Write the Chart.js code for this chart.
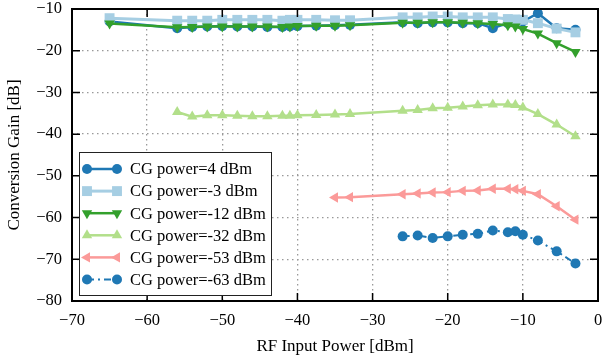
<!DOCTYPE html>
<html>
<head>
<meta charset="utf-8">
<script src="https://cdn.jsdelivr.net/npm/chart.js@4/dist/chart.umd.min.js"></script>
<style>
  html, body { margin: 0; padding: 0; background: #fff; }
  #wrap { width: 605px; height: 360px; }
</style>
</head>
<body>
<div id="wrap"><canvas id="cg"></canvas></div>
<script>
// RF input power points (dBm)
var xFull = [-65, -56, -54, -52, -50, -48, -46, -44, -42, -41, -40, -37.5, -35, -33,
             -26, -24, -22, -20, -18, -16, -14, -12, -11, -10, -8, -5.5, -3];
var x32 = xFull.slice(1);
var x53 = [-35, -33, -26, -24, -22, -20, -18, -16, -14, -12, -11, -10, -8, -5.5, -3];
var x63 = [-26, -24, -22, -20, -18, -16, -14, -12, -11, -10, -8, -5.5, -3];

// conversion gain (dB)
var cg4   = [-13.0, -14.6, -14.3, -14.2, -14.1, -14.2, -14.2, -14.3, -14.3, -14.2, -14.1, -14.0, -13.9, -13.8,
             -13.2, -13.4, -13.2, -13.2, -13.4, -13.4, -14.6, -13.4, -13.3, -13.0, -11.0, -14.6, -15.0];
var cgM3  = [-12.2, -12.8, -12.8, -12.8, -12.6, -12.6, -12.6, -12.6, -12.8, -12.6, -12.6, -12.6, -12.7, -12.7,
             -12.0, -12.0, -11.8, -11.8, -12.0, -12.0, -12.0, -12.4, -12.5, -12.6, -13.4, -14.7, -15.6];
var cgM12 = [-13.5, -14.4, -14.3, -14.2, -14.2, -14.2, -14.2, -14.2, -14.3, -14.2, -14.1, -14.0, -14.0, -13.9,
             -13.3, -13.3, -13.2, -13.2, -13.3, -13.4, -13.6, -13.9, -14.2, -14.8, -15.9, -18.2, -20.3];
var cgM32 = [-34.7, -35.8, -35.5, -35.5, -35.6, -35.7, -35.7, -35.6, -35.6, -35.5, -35.4, -35.3, -35.2,
             -34.4, -34.2, -33.8, -33.7, -33.4, -33.1, -32.9, -32.9, -33.0, -33.6, -35.2, -37.7, -40.5];
var cgM53 = [-55.2, -55.1, -54.4, -54.2, -54.0, -53.9, -53.6, -53.5, -53.1, -53.1, -53.2, -53.6, -54.4, -57.3, -60.5];
var cgM63 = [-64.5, -64.3, -64.9, -64.5, -64.1, -63.9, -63.1, -63.5, -63.3, -64.1, -65.5, -68.1, -71.0];

var labels = ['CG power=4 dBm', 'CG power=-3 dBm', 'CG power=-12 dBm',
              'CG power=-32 dBm', 'CG power=-53 dBm', 'CG power=-63 dBm'];
var xTicks = [-70, -60, -50, -40, -30, -20, -10, 0];
var yTicks = [-80, -70, -60, -50, -40, -30, -20, -10];

function pts(xs, ys) {
  var out = [];
  for (var i = 0; i < xs.length; i++) out.push({x: xs[i], y: ys[i]});
  return out;
}

var serif = '"Liberation Serif", "DejaVu Serif", serif';

function makeSet(i, xs, ys, color, style, rot, radius, width, dash) {
  return {
    label: labels[i],
    data: pts(xs, ys),
    showLine: true,
    borderColor: color,
    backgroundColor: color,
    borderWidth: width,
    borderDash: dash || [],
    pointStyle: style,
    rotation: rot,
    pointRadius: radius,
    pointHoverRadius: radius,
    pointBorderWidth: 0,
    tension: 0,
    order: 5 - i
  };
}

var datasets = [
  makeSet(0, xFull, cg4,  '#1f78b4', 'circle',   0,   5,   2.5),
  makeSet(1, xFull, cgM3, '#a6cee3', 'rect',     0,   7,   3),
  makeSet(2, xFull, cgM12,'#33a02c', 'triangle', 180, 6,   2.5),
  makeSet(3, x32,   cgM32,'#b2df8a', 'triangle', 0,   6,   2.5),
  makeSet(4, x53,   cgM53,'#fb9a99', 'triangle', 270, 6,   2.5),
  makeSet(5, x63,   cgM63,'#1f78b4', 'circle',   0,   5,   2, [7, 4, 2, 4])
];

function marker(ctx, style, rot, r, x, y) {
  ctx.beginPath();
  if (style === 'circle') {
    ctx.arc(x, y, r, 0, Math.PI * 2);
  } else if (style === 'rect') {
    var s = Math.SQRT1_2 * r;
    ctx.rect(x - s, y - s, 2 * s, 2 * s);
  } else {
    var a = rot * Math.PI / 180;
    for (var k = 0; k < 3; k++) {
      var px = x + Math.sin(a) * r, py = y - Math.cos(a) * r;
      if (k === 0) ctx.moveTo(px, py); else ctx.lineTo(px, py);
      a += 2 * Math.PI / 3;
    }
    ctx.closePath();
  }
  ctx.fill();
}

var framePlugin = {
  id: 'frame',
  afterDraw: function (chart) {
    var ctx = chart.ctx, a = chart.chartArea;
    var xs = chart.scales.x, ys = chart.scales.y;
    ctx.save();
    ctx.strokeStyle = '#000';
    ctx.lineWidth = 2;
    ctx.strokeRect(a.left, a.top, a.right - a.left, a.bottom - a.top);
    ctx.lineWidth = 1.5;
    ctx.beginPath();
    xTicks.forEach(function (t) {
      var p = xs.getPixelForValue(t);
      ctx.moveTo(p, a.bottom); ctx.lineTo(p, a.bottom - 8);
      ctx.moveTo(p, a.top); ctx.lineTo(p, a.top + 8);
    });
    yTicks.forEach(function (t) {
      var p = ys.getPixelForValue(t);
      ctx.moveTo(a.left, p); ctx.lineTo(a.left + 8, p);
      ctx.moveTo(a.right, p); ctx.lineTo(a.right - 8, p);
    });
    ctx.stroke();

    // legend box
    var bx = 79, by = 152, bw = 192, bh = 143, rowH = 22.1;
    ctx.fillStyle = '#fff';
    ctx.fillRect(bx, by, bw, bh);
    ctx.strokeStyle = '#222';
    ctx.lineWidth = 1;
    ctx.strokeRect(bx + 0.5, by + 0.5, bw, bh);
    ctx.font = '16.5px ' + serif;
    ctx.textBaseline = 'middle';
    chart.data.datasets.forEach(function (d, i) {
      var y = by + 17 + i * rowH;
      var x1 = bx + 8, x2 = bx + 38;
      ctx.strokeStyle = d.borderColor;
      ctx.lineWidth = d.borderWidth;
      ctx.setLineDash(d.borderDash || []);
      ctx.beginPath(); ctx.moveTo(x1, y); ctx.lineTo(x2, y); ctx.stroke();
      ctx.setLineDash([]);
      ctx.fillStyle = d.backgroundColor;
      marker(ctx, d.pointStyle, d.rotation, d.pointRadius, x1, y);
      marker(ctx, d.pointStyle, d.rotation, d.pointRadius, x2, y);
      ctx.fillStyle = '#000';
      ctx.fillText(d.label, bx + 51, y + 1);
    });
    ctx.restore();
  }
};

function minus(v) { return String(v).replace('-', '\u2212'); }

var gridOpts = { color: '#999', lineWidth: 1.3, drawTicks: false };
var borderOpts = { display: false, dash: [1.5, 3.5] };

new Chart(document.getElementById('cg'), {
  type: 'scatter',
  data: { datasets: datasets },
  options: {
    responsive: true,
    maintainAspectRatio: false,
    animation: false,
    layout: { padding: { top: 9, right: 3, left: 0, bottom: 0 } },
    plugins: { legend: { display: false }, tooltip: { enabled: false } },
    scales: {
      x: {
        type: 'linear', min: -70, max: 0,
        afterBuildTicks: function (s) { s.ticks = xTicks.map(function (v) { return {value: v}; }); },
        afterFit: function (s) { s.height = 59; s.paddingLeft = 0; s.paddingRight = 0; },
        ticks: { color: '#000', padding: 10, font: { family: serif, size: 16.5 }, callback: minus, maxRotation: 0 },
        grid: gridOpts,
        border: borderOpts,
        title: { display: true, text: 'RF Input Power [dBm]', color: '#000', font: { family: serif, size: 17 }, padding: { top: 2, bottom: 3 } }
      },
      y: {
        type: 'linear', min: -80, max: -10,
        afterBuildTicks: function (s) { s.ticks = yTicks.map(function (v) { return {value: v}; }); },
        afterFit: function (s) { s.width = 72; s.paddingTop = 0; s.paddingBottom = 0; },
        ticks: { color: '#000', padding: 10, font: { family: serif, size: 16.5 }, callback: minus },
        grid: gridOpts,
        border: borderOpts,
        title: { display: true, text: 'Conversion Gain [dB]', color: '#000', font: { family: serif, size: 17 }, padding: { top: 4, bottom: 0 } }
      }
    }
  },
  plugins: [framePlugin]
});
</script>
</body>
</html>
